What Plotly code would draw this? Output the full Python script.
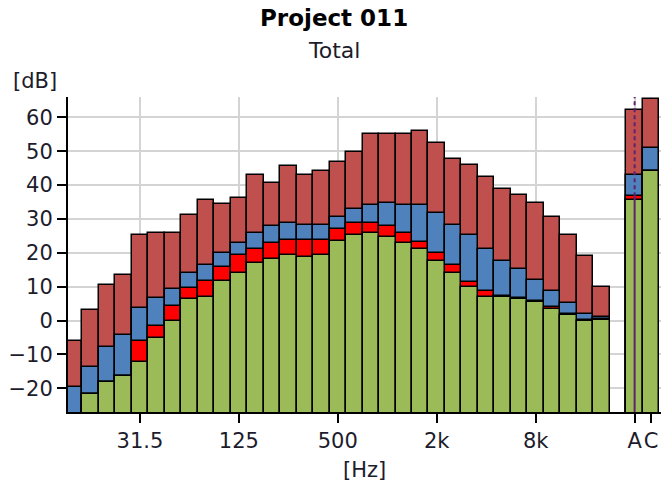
import plotly.graph_objects as go

# Third-octave band centre frequencies
bands = ["12.5", "16", "20", "25", "31.5", "40", "50", "63", "80", "100",
         "125", "160", "200", "250", "315", "400", "500", "630", "800", "1k",
         "1.25k", "1.6k", "2k", "2.5k", "3.15k", "4k", "5k", "6.3k", "8k",
         "10k", "12.5k", "16k", "20k"]

# Cumulative levels per band [dB]
level_total = [-5.9, 3.2, 10.5, 13.5, 25.4, 25.9, 25.9, 31.3, 35.5, 34.3,
               36.1, 43.0, 40.7, 45.5, 43.0, 44.3, 46.8, 49.7, 55.2, 55.0,
               55.0, 56.1, 52.5, 47.8, 46.0, 42.4, 38.9, 37.1, 34.7, 30.7,
               25.3, 19.0, 10.0]
level_blue = [-19.7, -13.8, -7.9, -4.4, 3.7, 6.7, 9.2, 14.0, 16.3, 20.0,
              22.9, 25.8, 27.8, 28.8, 28.3, 28.3, 30.7, 33.0, 34.0, 34.7,
              34.2, 34.2, 31.8, 28.3, 25.3, 21.0, 17.5, 15.1, 12.1, 8.6,
              5.2, 1.8, 1.0]
level_red = [-28.5, -21.7, -18.0, -16.3, -6.1, -1.5, 4.4, 9.7, 11.6, 15.8,
             19.4, 21.2, 22.9, 23.9, 23.9, 23.9, 27.1, 28.8, 28.8, 27.8,
             25.8, 23.3, 19.9, 16.5, 11.5, 8.7, 7.3, 6.8, 5.8, 4.0,
             1.9, 0.3, 0.6]
level_green = [-30.0, -21.7, -18.0, -16.3, -12.1, -5.1, -0.2, 6.4, 6.9, 11.6,
               14.0, 16.9, 18.1, 19.4, 18.8, 19.4, 23.6, 25.3, 25.8, 24.6,
               22.9, 21.1, 17.6, 14.0, 9.9, 6.9, 6.9, 6.4, 5.4, 3.4,
               1.5, -0.2, 0.3]

# Weighted totals
weight_labels = ["A", "C"]
weight_total = [62.1, 65.5]
weight_blue = [43.0, 50.9]
weight_red = [36.7, 44.3]
weight_green = [35.5, 44.3]

band_ticks = ["31.5", "125", "500", "2k", "8k"]
y_ticks = [-20, -10, 0, 10, 20, 30, 40, 50, 60]
y_range = [-27, 66]
floor = -40  # bars grow from below the visible axis

# positions: bands 0..32, one empty slot, then A and C
band_pos = list(range(len(bands)))
weight_pos = [len(bands) + 1 + i for i in range(len(weight_labels))]
x_all = band_pos + weight_pos

layers = [
    ("Total", level_total + weight_total, "#C0504D"),
    ("Blue", level_blue + weight_blue, "#4F81BD"),
    ("Red", level_red + weight_red, "#FF0000"),
    ("Green", level_green + weight_green, "#9BBB59"),
]

fig = go.Figure()
for name, vals, col in layers:
    fig.add_trace(go.Bar(
        x=x_all, y=[v - floor for v in vals], base=floor,
        name=name, width=1.0,
        marker=dict(color=col, line=dict(color="black", width=1.5)),
        showlegend=False,
    ))

# marker line through the A-weighted bar
a_x = weight_pos[0]
a_split = weight_red[0]
fig.add_shape(type="line", xref="x", yref="y", x0=a_x, x1=a_x,
              y0=y_range[0], y1=a_split,
              line=dict(color="#5E2370", width=2))
fig.add_shape(type="line", xref="x", yref="y", x0=a_x, x1=a_x,
              y0=a_split, y1=y_range[1],
              line=dict(color="#5E2370", width=2, dash="4px,3px"))

tick_pos = [bands.index(t) for t in band_ticks] + weight_pos
tick_txt = band_ticks + weight_labels

font_main = "DejaVu Sans, sans-serif"

fig.update_layout(
    width=661, height=488,
    margin=dict(l=68, r=0, t=97, b=76),
    plot_bgcolor="white", paper_bgcolor="white",
    barmode="overlay", bargap=0,
    font=dict(family=font_main, size=21, color="#1c1c2c"),
    xaxis=dict(
        range=[-0.36, 35.6], tickmode="array", tickvals=tick_pos,
        ticktext=tick_txt, tickangle=0, ticklabeloverflow="allow",
        showgrid=True, gridcolor="#d4d4d4", gridwidth=1.5,
        ticks="outside", ticklen=9, tickwidth=1.5, tickcolor="black",
        showline=True, linecolor="black", linewidth=2, zeroline=False,
        layer="above traces",
    ),
    yaxis=dict(
        range=y_range, tickmode="array", tickvals=y_ticks,
        showgrid=True, gridcolor="#d4d4d4", gridwidth=1.5,
        ticks="outside", ticklen=9, tickwidth=1.5, tickcolor="black",
        showline=True, linecolor="black", linewidth=2, zeroline=False,
        layer="above traces",
    ),
    annotations=[
        dict(text="<b>Project 011</b>", xref="paper", yref="paper",
             x=(334 - 68) / 593, y=(412 - 18) / 315, showarrow=False,
             xanchor="center", yanchor="middle", font=dict(size=23, color="black")),
        dict(text="Total", xref="paper", yref="paper",
             x=(334 - 68) / 593, y=(412 - 50) / 315, showarrow=False,
             xanchor="center", yanchor="middle", font=dict(size=22)),
        dict(text="[dB]", xref="paper", yref="paper",
             x=(34.5 - 68) / 593, y=(412 - 81) / 315, showarrow=False,
             xanchor="center", yanchor="middle", font=dict(size=21)),
        dict(text="[Hz]", xref="paper", yref="paper",
             x=0.5, y=(412 - 470) / 315, showarrow=False,
             xanchor="center", yanchor="middle", font=dict(size=21)),
    ],
)

fig.write_html("out.html")
